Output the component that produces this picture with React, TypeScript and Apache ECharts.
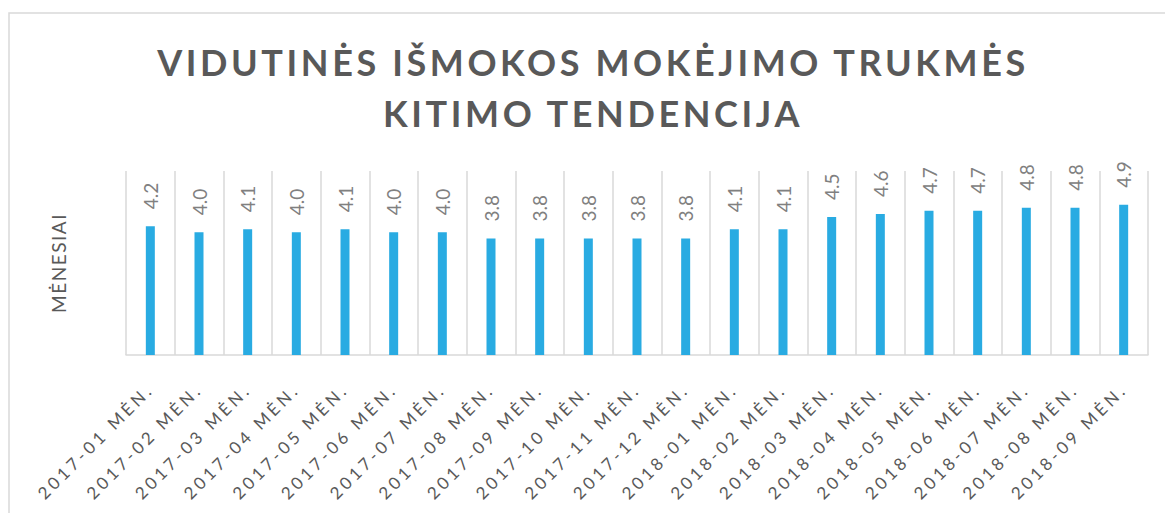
import React, { useEffect, useRef } from "react";
import * as echarts from "echarts";

const categories = [
  "2017-01 MĖN.", "2017-02 MĖN.", "2017-03 MĖN.", "2017-04 MĖN.", "2017-05 MĖN.",
  "2017-06 MĖN.", "2017-07 MĖN.", "2017-08 MĖN.", "2017-09 MĖN.", "2017-10 MĖN.",
  "2017-11 MĖN.", "2017-12 MĖN.", "2018-01 MĖN.", "2018-02 MĖN.", "2018-03 MĖN.",
  "2018-04 MĖN.", "2018-05 MĖN.", "2018-06 MĖN.", "2018-07 MĖN.", "2018-08 MĖN.",
  "2018-09 MĖN.",
];
const values = [4.2, 4.0, 4.1, 4.0, 4.1, 4.0, 4.0, 3.8, 3.8, 3.8, 3.8, 3.8, 4.1, 4.1, 4.5, 4.6, 4.7, 4.7, 4.8, 4.8, 4.9];
const titleLines = ["VIDUTINĖS IŠMOKOS MOKĖJIMO TRUKMĖS", "KITIMO TENDENCIJA"];
const yAxisName = "MĖNESIAI";

const FONT = "Lato";

export default function App() {
  const ref = useRef<HTMLDivElement>(null);
  useEffect(() => {
    document.body.style.margin = "0";
    const el = ref.current!;
    const chart = echarts.init(el, null, { renderer: "svg" });
    const spacing = () => {
      el.querySelectorAll("text").forEach((t) => {
        const s = (t.textContent || "").trim();
        if (categories.includes(s)) t.setAttribute("letter-spacing", "3.6");
        else if (titleLines.includes(s)) t.setAttribute("letter-spacing", "3.6");
        else if (s === yAxisName) t.setAttribute("letter-spacing", "1.5");
      });
    };
    chart.on("rendered", spacing);
    chart.on("finished", spacing);
    chart.setOption({
      animation: false,
      backgroundColor: "#ffffff",
      graphic: [
        {
          type: "rect",
          shape: { x: 9, y: 13, width: 1200, height: 560 },
          style: { fill: "none", stroke: "#d9d9d9", lineWidth: 1.5 },
          silent: true,
        },
        ...titleLines.map((line, i) => ({
          type: "text",
          x: 593,
          y: 62 + i * 51,
          style: {
            text: line,
            fontSize: 36,
            fontWeight: "bold",
            fontFamily: FONT,
            fill: "#595959",
            align: "center",
            verticalAlign: "middle",
          },
        })),
      ],
      grid: { left: 126, right: 17, top: 171, bottom: 158 },
      xAxis: {
        type: "category",
        data: categories,
        axisTick: { show: false },
        axisLine: { lineStyle: { color: "#d9d9d9", width: 1.5 } },
        splitLine: { show: true, lineStyle: { color: "#d9d9d9", width: 1.5 } },
        axisLabel: {
          rotate: 45,
          interval: 0,
          margin: 31,
          fontSize: 17,
          fontFamily: FONT,
          color: "#595959",
        },
      },
      yAxis: {
        type: "value",
        min: 0,
        max: 6,
        axisLabel: { show: false },
        axisLine: { show: false },
        axisTick: { show: false },
        splitLine: { show: false },
        name: yAxisName,
        nameLocation: "middle",
        nameGap: 58,
        nameRotate: 90,
        nameTextStyle: { fontSize: 19, fontFamily: FONT, color: "#595959" },
      },
      series: [
        {
          type: "bar",
          data: values,
          barWidth: 9,
          itemStyle: { color: "#29abe2" },
          label: {
            show: true,
            position: "top",
            rotate: 90,
            align: "left",
            verticalAlign: "middle",
            distance: 17,
            fontSize: 19,
            fontFamily: FONT,
            color: "#808080",
            formatter: (p: any) => Number(p.value).toFixed(1),
          },
        },
      ],
    });
    spacing();
    const raf = requestAnimationFrame(spacing);
    const tm = setTimeout(spacing, 50);
    return () => {
      cancelAnimationFrame(raf);
      clearTimeout(tm);
      chart.dispose();
    };
  }, []);
  return <div ref={ref} style={{ width: 1165, height: 513 }} />;
}
